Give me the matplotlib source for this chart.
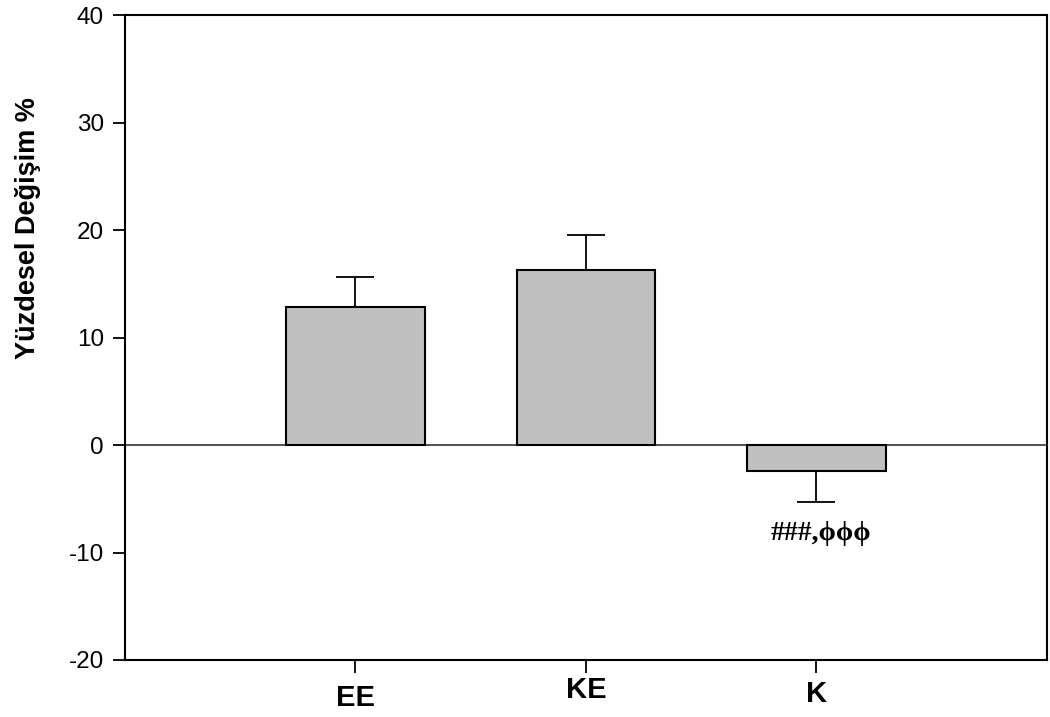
import matplotlib.pyplot as plt
import numpy as np

plt.rcParams['font.family'] = ['Liberation Sans', 'DejaVu Sans']
plt.rcParams['axes.unicode_minus'] = False

groups = ["EE", "KE", "K"]
change = [12.8, 16.3, -2.4]
sem = [2.8, 3.2, 2.9]
label_pad = [8, 2.5, 5.4]  # small vertical shifts of the group labels
note = "###,\u03d5\u03d5\u03d5"


def draw_bars(ax):
    x = np.arange(1, len(groups) + 1)
    ax.bar(x, change, width=0.6, color="#c0c0c0", edgecolor="black",
           linewidth=1.5, zorder=3)
    # one-sided error bars, pointing away from zero
    lower = [s if v < 0 else 0 for v, s in zip(change, sem)]
    upper = [s if v >= 0 else 0 for v, s in zip(change, sem)]
    ax.errorbar(x, change, yerr=[lower, upper], fmt="none", ecolor="black",
                elinewidth=1.3, capsize=14, capthick=1.3, zorder=2)
    ax.axhline(0, color="#333333", linewidth=1.2, zorder=1)
    ax.text(x[2] + 0.02, change[2] - sem[2] - 1.8, note, ha="center", va="top",
            fontsize=20, fontweight="bold",
            family=["Liberation Serif", "DejaVu Serif"])
    return x


fig = plt.figure(figsize=(10.5, 7.17), dpi=100)
ax = fig.add_axes([0.119, 0.0795, 0.878, 0.8995])
x = draw_bars(ax)

ax.set_xlim(0, 4)
ax.set_ylim(-20, 40)
ax.set_yticks(np.arange(-20, 41, 10))
ax.set_xticks(x)
ax.set_xticklabels(groups, fontsize=21, fontweight="bold")
ax.tick_params(axis="y", direction="out", length=9, width=1.3, labelsize=17.5,
               pad=6)
ax.tick_params(axis="x", direction="out", length=9, width=1.3)
for tick, pad in zip(ax.xaxis.get_major_ticks(), label_pad):
    tick.set_pad(pad)
ax.set_ylabel("Yüzdesel Değişim %", fontsize=19.5, fontweight="bold")
ax.yaxis.set_label_coords(-0.091, 0.67)
for sp in ax.spines.values():
    sp.set_linewidth(1.5)

fig.savefig("out.png", dpi=100)
